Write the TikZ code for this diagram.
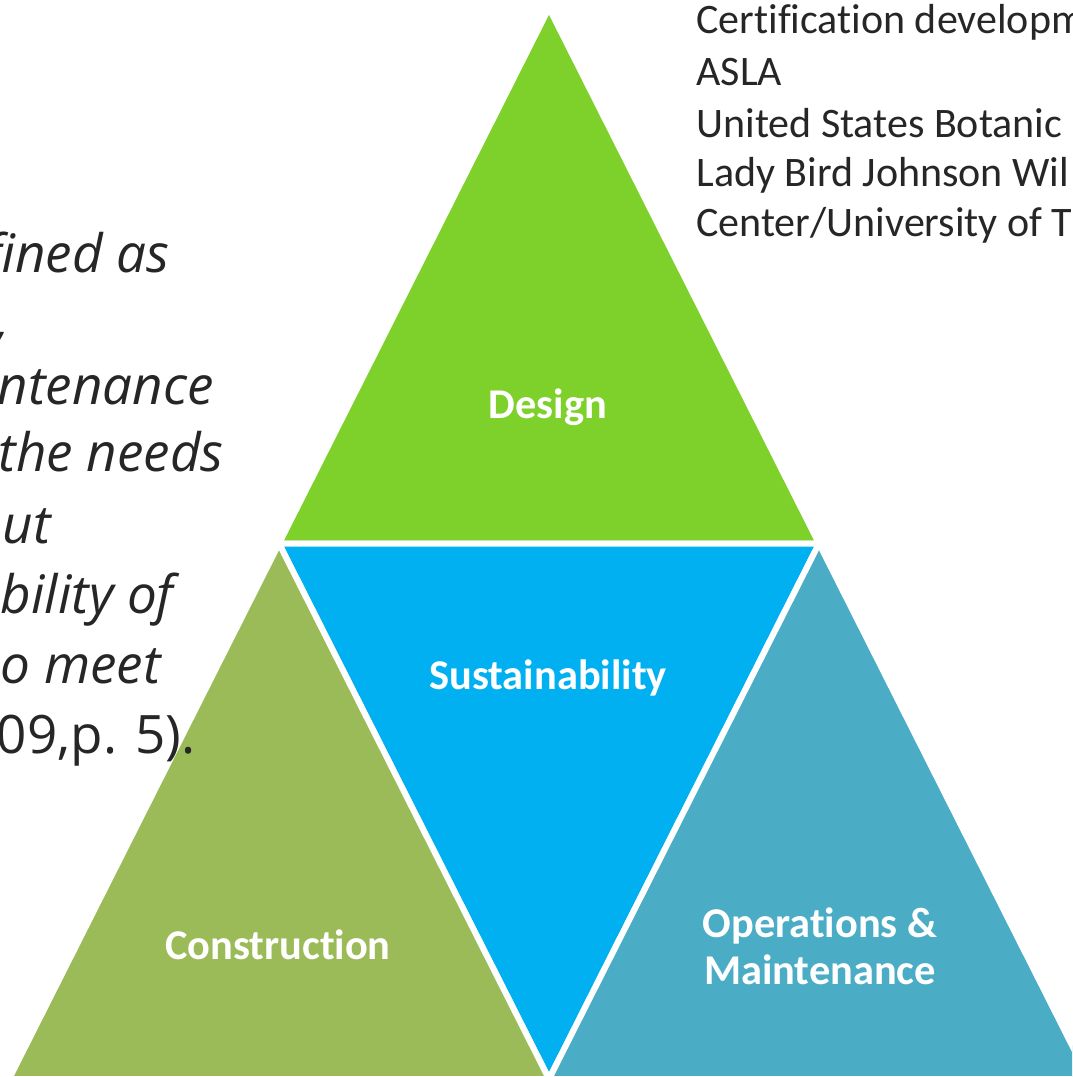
\documentclass[tikz,border=0pt]{standalone}
\usepackage{fontspec}
\setmainfont{Carlito}[Ligatures=NoCommon]
\newfontfamily\quotefont{Open Sans}

\definecolor{designgreen}{RGB}{126,208,42}
\definecolor{sustblue}{RGB}{0,176,240}
\definecolor{constrgreen}{RGB}{155,187,89}
\definecolor{opsteal}{RGB}{75,172,198}
\definecolor{textgray}{RGB}{38,38,38}

\begin{document}
\begin{tikzpicture}[x=0.5pt, y=-0.5pt,
    tile/.style={draw=white, line width=3pt, line join=miter},
    tiletext/.style={text=white, inner sep=0, align=center,
    font=\fontsize{21.2}{23.5}\selectfont\bfseries},
    quoteline/.style={anchor=base east, inner sep=0, text=textgray,
    font=\quotefont\fontsize{26.5}{30}\selectfont\itshape},
    sourceline/.style={anchor=base west, inner sep=0, text=textgray,
    font=\fontsize{21}{25}\selectfont}]

    \useasboundingbox (0, 0) rectangle (1072, 1077);
    \clip (0, 0) rectangle (1072, 1077);

    % Corners
    \coordinate (T) at (549, 8);
    \coordinate (ML) at (279, 543.5);
    \coordinate (MR) at (819, 543.5);
    \coordinate (BL) at (9, 1079);
    \coordinate (BM) at (549, 1079);
    \coordinate (BR) at (1089, 1079);

    % Tiles
    \filldraw[tile, fill=designgreen] (T) -- (ML) -- (MR) -- cycle;
    \filldraw[tile, fill=sustblue] (ML) -- (MR) -- (BM) -- cycle;
    \filldraw[tile, fill=constrgreen] (ML) -- (BL) -- (BM) -- cycle;
    \filldraw[tile, fill=opsteal] (MR) -- (BM) -- (BR) -- cycle;

    % Tile labels
    \node[tiletext, anchor=base] (design) at (548, 418) {Design};
    \node[tiletext, anchor=base] (sustainability) at (548, 689) {Sustainability};
    \node[tiletext, anchor=base] (construction) at (278, 959) {Construction};
    \node[tiletext] (operations) at (820, 946) {Operations \&\\Maintenance};

    % Quote
    \node[quoteline] (q1) at (170, 272) {fined as};
    \node[quoteline] (q2) at (10, 338) {,};
    \node[quoteline] (q3) at (214, 404) {ntenance};
    \node[quoteline] (q4) at (224, 471) {the needs};
    \node[quoteline] (q5) at (51, 543) {ut};
    \node[quoteline] (q6) at (174, 613) {bility of};
    \node[quoteline] (q7) at (161, 683) {o meet};
    \node[quoteline, font=\quotefont\fontsize{26.5}{30}\selectfont]
    (q8) at (196, 753) {009,p. 5).};

    % Sources
    \node[sourceline] (s1) at (696, 33) {Certification developm};
    \node[sourceline] (s2) at (696, 85) {ASLA};
    \node[sourceline] (s3) at (696, 137) {United States Botanic};
    \node[sourceline] (s4) at (696, 186) {Lady Bird Johnson Wil};
    \node[sourceline] (s5) at (696, 236) {Center/University of T};

\end{tikzpicture}
\end{document}
